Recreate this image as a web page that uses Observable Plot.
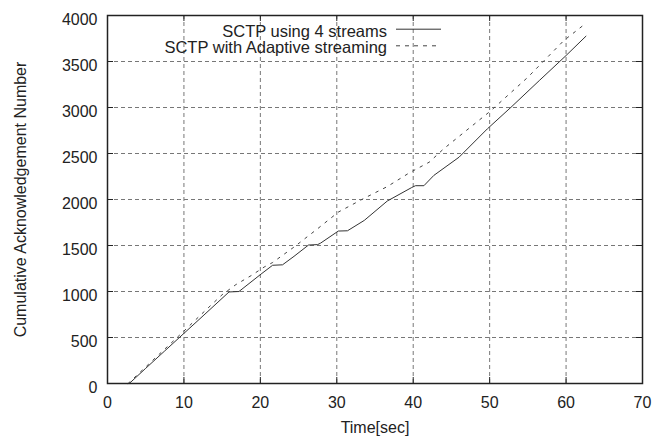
<!DOCTYPE html>
<html>
<head>
<meta charset="utf-8">
<script src="https://cdn.jsdelivr.net/npm/d3@7"></script>
<script src="https://cdn.jsdelivr.net/npm/@observablehq/plot@0.6"></script>
<style>
  html, body { margin: 0; padding: 0; background: #fff; }
</style>
</head>
<body>
<div id="chart"></div>
<script>
// ---- data ----
const xTicks = [0, 10, 20, 30, 40, 50, 60, 70];
const yTicks = [0, 500, 1000, 1500, 2000, 2500, 3000, 3500, 4000];
const xLabel = "Time[sec]";
const yLabel = "Cumulative Acknowledgement Number";
const seriesNames = ["SCTP using 4 streams", "SCTP with Adaptive streaming"];

// SCTP using 4 streams (solid)
const timeFour = [2.85, 5, 7.5, 10, 12.5, 15.9, 17.2, 20.1, 21.6, 22.9, 24.4, 26.3, 27.5, 27.9, 30.2, 31.4, 33.6, 36.6, 39.8, 40.3, 41.4, 42.7, 46.0, 49.7, 52.8, 56.5, 60.0, 62.6];
const ackFour  = [0, 165, 355, 545, 735, 995, 1000, 1190, 1285, 1290, 1382, 1505, 1510, 1527, 1657, 1660, 1773, 1983, 2130, 2150, 2150, 2262, 2460, 2768, 3003, 3293, 3565, 3775];

// SCTP with Adaptive streaming (dotted)
const timeAdaptive = [2.7, 5, 7.5, 10, 12.5, 15, 16.8, 18.8, 20.5, 21.6, 24.4, 27.5, 30.2, 33.5, 36.6, 39.5, 42.1, 44.0, 50.2, 55.0, 59.7, 62.2];
const ackAdaptive  = [0, 180, 375, 570, 770, 965, 1075, 1173, 1266, 1315, 1483, 1683, 1863, 2010, 2140, 2290, 2406, 2552, 2968, 3329, 3727, 3890];

// ---- build tables ----
const four = timeFour.map((t, i) => ({t, ack: ackFour[i]}));
const adaptive = timeAdaptive.map((t, i) => ({t, ack: ackAdaptive[i]}));

const W = 654, H = 436, mL = 107, mR = 12, mT = 15, mB = 53;
const innerW = W - mL - mR, innerH = H - mT - mB;
const font = "'Liberation Sans', Arial, Helvetica, sans-serif";

const plot = Plot.plot({
  width: W,
  height: H,
  marginLeft: mL,
  marginRight: mR,
  marginTop: mT,
  marginBottom: mB,
  style: {fontFamily: font, fontSize: "16px", color: "#222", background: "#fff"},
  x: {domain: [0, 70], ticks: xTicks, label: null},
  y: {domain: [0, 4000], ticks: yTicks, label: null},
  marks: [
    // dashed grid
    Plot.ruleX(xTicks.slice(1, -1), {stroke: "#777", strokeWidth: 1, strokeDasharray: "4,3"}),
    Plot.ruleY(yTicks.slice(1, -1), {stroke: "#777", strokeWidth: 1, strokeDasharray: "4,3"}),
    // inward tick marks on all four sides
    Plot.ruleX(xTicks, {insetTop: innerH - 6, stroke: "#222"}),
    Plot.ruleX(xTicks, {insetBottom: innerH - 6, stroke: "#222"}),
    Plot.ruleY(yTicks, {insetRight: innerW - 6, stroke: "#222"}),
    Plot.ruleY(yTicks, {insetLeft: innerW - 6, stroke: "#222"}),
    // series
    Plot.line(four, {x: "t", y: "ack", stroke: "#333", strokeWidth: 1}),
    Plot.line(adaptive, {x: "t", y: "ack", stroke: "#444", strokeWidth: 1, strokeDasharray: "2.5,6"}),
    Plot.frame({stroke: "#222", strokeWidth: 1.5}),
    // axes
    Plot.axisX({ticks: xTicks, tickSize: 0, tickPadding: 13, tickFormat: d => String(d), label: null}),
    Plot.axisY({ticks: yTicks, tickSize: 0, tickPadding: 10, dy: 4, tickFormat: d => String(d), label: null}),
    // axis titles
    Plot.text([xLabel], {text: d => d, frameAnchor: "bottom", textAnchor: "middle", lineAnchor: "top", dy: 38, fontSize: 16}),
    Plot.text([yLabel], {text: d => d, frameAnchor: "left", textAnchor: "middle", rotate: -90, lineAnchor: "middle", dx: -87, fontSize: 16})
  ]
});

// ---- legend (inside top of plot) ----
const svg = d3.select(plot);
const lg = svg.append("g").attr("font-family", font).attr("font-size", 16.5).attr("fill", "#222");
const rows = [
  {name: seriesNames[0], baseline: 36.7, dash: null, stroke: "#333"},
  {name: seriesNames[1], baseline: 53.3, dash: "4,5", stroke: "#444"}
];
rows.forEach(r => {
  lg.append("text").attr("x", 387).attr("y", r.baseline).attr("text-anchor", "end").text(r.name);
  const ln = lg.append("line")
    .attr("x1", 396).attr("x2", 441)
    .attr("y1", r.baseline - 7.5).attr("y2", r.baseline - 7.5)
    .attr("stroke", r.stroke).attr("stroke-width", 1);
  if (r.dash) ln.attr("stroke-dasharray", r.dash);
});

document.getElementById("chart").appendChild(plot);
</script>
</body>
</html>
